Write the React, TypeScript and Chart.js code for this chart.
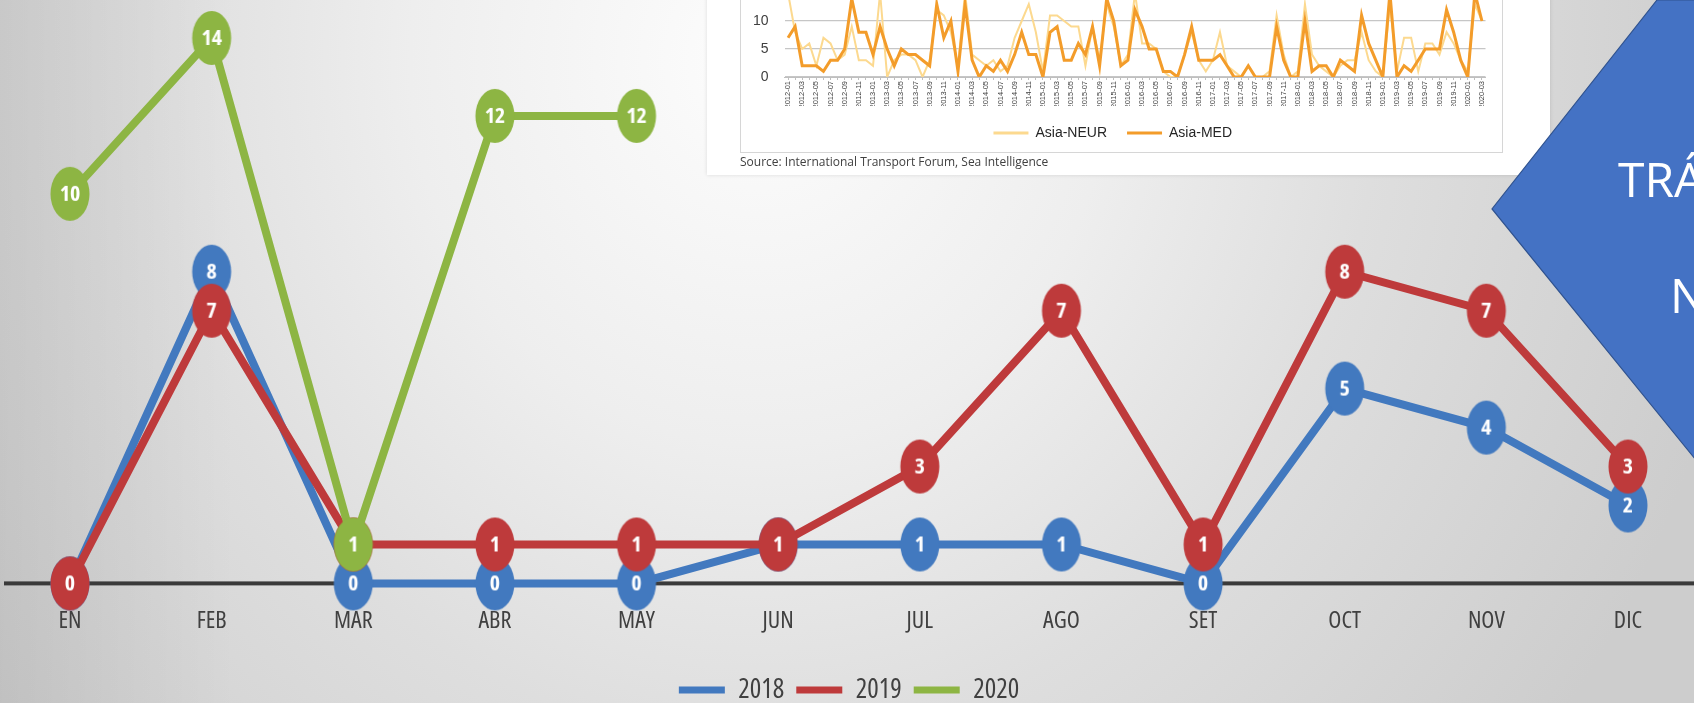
import React, { useEffect, useRef } from "react";
import { Chart, registerables } from "chart.js";

Chart.register(...registerables);

// ---------- main chart data ----------
const MONTHS = ["EN", "FEB", "MAR", "ABR", "MAY", "JUN", "JUL", "AGO", "SET", "OCT", "NOV", "DIC"];
const SERIES_NAMES = ["2018", "2019", "2020"];
const VALUES_2018 = [0, 8, 0, 0, 0, 1, 1, 1, 0, 5, 4, 2];
const VALUES_2019 = [0, 7, 1, 1, 1, 1, 3, 7, 1, 8, 7, 3];
const VALUES_2020 = [10, 14, 1, 12, 12, null, null, null, null, null, null, null];
const SERIES_COLORS = ["#4279BF", "#BE3A3B", "#8DB543"];
const Y_MIN = 0;
const Y_MAX = 14;

// ---------- inset chart data (monthly 2012-01 .. 2020-03) ----------
const INSET_FIRST_YEAR = 2012;
const INSET_MONTHS = 99;
const INSET_SERIES = ["Asia-NEUR", "Asia-MED"];
const ASIA_NEUR = [
  15, 8, 5, 6, 2, 7, 6, 3, 4, 9, 3, 3, 2, 15, 0, 3, 4, 4, 3, 0, 3, 12, 11, 8, 2,
  15, 4, 3, 2, 3, 1, 2, 7, 10, 13, 8, 1, 11, 11, 10, 9, 9, 2, 9, 3, 13, 9, 2, 4, 15,
  6, 6, 5, 1, 0, 0, 4, 8, 3, 1, 3, 8, 2, 1, 0, 2, 0, 0, 1, 11, 4, 0, 1, 13, 4,
  2, 1, 0, 2, 3, 3, 8, 3, 1, 0, 13, 1, 7, 7, 1, 6, 6, 4, 8, 6, 3, 1, 13, 10,
];
const ASIA_MED = [
  7, 9, 2, 2, 2, 1, 3, 3, 5, 14, 8, 8, 4, 9, 5, 2, 5, 4, 4, 3, 2, 13, 7, 10, 1,
  13, 3, 0, 2, 1, 3, 1, 4, 8, 4, 4, 0, 8, 9, 3, 3, 6, 4, 9, 2, 14, 10, 2, 3, 12,
  9, 5, 5, 1, 1, 0, 4, 9, 3, 3, 3, 4, 2, 0, 0, 2, 0, 0, 0, 9, 3, 0, 0, 10, 1,
  2, 2, 0, 3, 2, 1, 11, 6, 3, 0, 15, 0, 2, 1, 3, 5, 5, 5, 12, 8, 3, 0, 15, 10,
];
const INSET_COLORS = ["#FCD98F", "#F39C2A"];
const INSET_Y_MAX = 20;
const INSET_Y_STEP = 5;
const INSET_SOURCE = "Source: International Transport Forum, Sea Intelligence";

const INSET_LABELS: string[] = [];
for (let i = 0; i < INSET_MONTHS; i++) {
  const y = INSET_FIRST_YEAR + Math.floor(i / 12);
  const m = (i % 12) + 1;
  INSET_LABELS.push(`${y}-${m < 10 ? "0" + m : m}`);
}

const SANS = '"Liberation Sans", Arial, sans-serif';
const OPEN = '"Open Sans", "Roboto Condensed", sans-serif';

function makeMarker(value: number, color: string): HTMLCanvasElement {
  const c = document.createElement("canvas");
  c.width = 42;
  c.height = 58;
  const g = c.getContext("2d")!;
  g.fillStyle = color;
  g.beginPath();
  g.ellipse(21, 29, 19.5, 27, 0, 0, Math.PI * 2);
  g.fill();
  g.fillStyle = "#ffffff";
  g.font = `condensed bold 22px ${OPEN}`;
  g.textAlign = "center";
  g.textBaseline = "middle";
  g.fillText(String(value), 21, 30);
  return c;
}

const zeroLinePlugin = {
  id: "zeroLine",
  beforeDatasetsDraw(chart: any) {
    const y = chart.scales.y.getPixelForValue(0);
    const ctx = chart.ctx;
    ctx.save();
    ctx.fillStyle = "#3a3a3a";
    ctx.fillRect(4, y - 2, chart.width - 4, 4);
    ctx.restore();
  },
};

export default function App() {
  const mainRef = useRef<HTMLCanvasElement>(null);
  const insetRef = useRef<HTMLCanvasElement>(null);

  useEffect(() => {
    const all = [VALUES_2018, VALUES_2019, VALUES_2020];
    const datasets = all.map((vals, di) => ({
      label: SERIES_NAMES[di],
      data: vals,
      borderColor: SERIES_COLORS[di],
      backgroundColor: SERIES_COLORS[di],
      borderWidth: 8,
      tension: 0,
      spanGaps: false,
      clip: false as any,
      order: 3 - di,
      pointRadius: 20,
      pointStyle: vals.map((v) => (v == null ? "circle" : makeMarker(v as number, SERIES_COLORS[di]))) as any,
    }));

    const main = new Chart(mainRef.current!, {
      type: "line",
      data: { labels: MONTHS, datasets },
      options: {
        animation: false,
        responsive: false,
        layout: { padding: { left: 70, right: 66, top: 38, bottom: -10.5 } },
        scales: {
          x: {
            offset: false,
            grid: { display: false },
            border: { display: false },
            ticks: {
              color: "#404040",
              font: { family: OPEN, size: 24, weight: "condensed" as any },
              padding: 15,
              maxRotation: 0,
              autoSkip: false,
            },
            afterFit: (s: any) => {
              s.height = 81.1;
            },
          },
          y: { display: false, min: Y_MIN, max: Y_MAX },
        },
        plugins: {
          legend: {
            position: "bottom",
            labels: {
              boxWidth: 46,
              boxHeight: 7,
              padding: 12,
              color: "#404040",
              font: { family: OPEN, size: 27, weight: "condensed" as any },
              sort: (a: any, b: any) => a.datasetIndex - b.datasetIndex,
              generateLabels: (chart: any) =>
                (Chart.defaults.plugins.legend.labels.generateLabels as any)(chart).map((l: any) => ({
                  ...l,
                  lineWidth: 0,
                  fillStyle: SERIES_COLORS[l.datasetIndex],
                })),
            },
          },
          tooltip: { enabled: false },
        },
      },
      plugins: [zeroLinePlugin],
    });

    const inset = new Chart(insetRef.current!, {
      type: "line",
      data: {
        labels: INSET_LABELS,
        datasets: [
          {
            label: INSET_SERIES[0],
            data: ASIA_NEUR,
            borderColor: INSET_COLORS[0],
            backgroundColor: INSET_COLORS[0],
            borderWidth: 2,
            pointRadius: 0,
            tension: 0,
            order: 2,
          },
          {
            label: INSET_SERIES[1],
            data: ASIA_MED,
            borderColor: INSET_COLORS[1],
            backgroundColor: INSET_COLORS[1],
            borderWidth: 3,
            pointRadius: 0,
            tension: 0,
            order: 1,
          },
        ],
      },
      options: {
        animation: false,
        responsive: false,
        layout: { padding: { left: 0, right: 17.5, top: 25, bottom: 3 } },
        scales: {
          x: {
            offset: true,
            grid: { display: true, drawOnChartArea: false, drawTicks: true, tickLength: 3, color: "#bfbfbf" },
            border: { display: true, color: "#bfbfbf", width: 1 },
            ticks: {
              autoSkip: false,
              maxRotation: 90,
              minRotation: 90,
              padding: 1,
              color: "#404040",
              font: { family: SANS, size: 7.5 },
              callback: (_v: any, i: number) => (i % 2 === 0 ? INSET_LABELS[i] : ""),
            },
            afterFit: (s: any) => {
              s.height = 29;
            },
          },
          y: {
            min: 0,
            max: INSET_Y_MAX,
            ticks: { stepSize: INSET_Y_STEP, padding: 16, color: "#404040", font: { family: SANS, size: 14 } },
            grid: { color: "#c6c6c6", lineWidth: 1.2, drawTicks: false },
            border: { display: false },
            afterFit: (s: any) => {
              s.width = 44.5;
            },
          },
        },
        plugins: {
          legend: {
            position: "bottom",
            labels: {
              boxWidth: 35,
              boxHeight: 3,
              padding: 20,
              color: "#262626",
              font: { family: SANS, size: 14 },
              sort: (a: any, b: any) => a.datasetIndex - b.datasetIndex,
              generateLabels: (chart: any) =>
                (Chart.defaults.plugins.legend.labels.generateLabels as any)(chart).map((l: any) => ({
                  ...l,
                  lineWidth: 0,
                  fillStyle: INSET_COLORS[l.datasetIndex],
                })),
            },
          },
          tooltip: { enabled: false },
        },
      },
    });

    return () => {
      main.destroy();
      inset.destroy();
    };
  }, []);

  return (
    <div
      style={{
        position: "fixed",
        left: 0,
        top: 0,
        width: 1694,
        height: 703,
        overflow: "hidden",
        background:
          "linear-gradient(90deg, rgba(0,0,0,0.07) 0%, rgba(0,0,0,0) 14%), radial-gradient(ellipse 1000px 1100px at 760px 60px, #fdfdfd 0%, #eeeeee 35%, #dedede 62%, #cdcdcd 100%)",
      }}
    >
      <canvas
        ref={mainRef}
        width={1694}
        height={703}
        style={{ position: "absolute", left: 0, top: 0, width: 1694, height: 703 }}
      />
      {/* inset picture */}
      <div
        style={{
          position: "absolute",
          left: 707,
          top: -5,
          width: 843,
          height: 180,
          background: "#ffffff",
          boxShadow: "0 0 4px rgba(0,0,0,0.12)",
        }}
      />
      <div
        style={{
          position: "absolute",
          left: 740,
          top: -10,
          width: 763,
          height: 163,
          border: "1px solid #d6d6d6",
          boxSizing: "border-box",
        }}
      />
      <canvas
        ref={insetRef}
        width={763}
        height={213}
        style={{ position: "absolute", left: 740, top: -60, width: 763, height: 213 }}
      />
      <div
        style={{
          position: "absolute",
          left: 740,
          top: 154,
          fontFamily: '"Open Sans", sans-serif',
          fontSize: 12,
          lineHeight: "16px",
          color: "#404040",
          whiteSpace: "nowrap",
        }}
      >
        {INSET_SOURCE}
      </div>
      {/* blue shape */}
      <svg
        width={1694}
        height={703}
        style={{ position: "absolute", left: 0, top: 0 }}
        viewBox="0 0 1694 703"
      >
        <polygon points="1657,0 1700,0 1700,465 1492,209" fill="#4472C4" stroke="#2F528F" strokeWidth={1.2} />
        <text x={1618} y={197} fill="#ffffff" fontFamily='"Open Sans", sans-serif' fontSize={48}>
          TRÁ
        </text>
        <text x={1670} y={313} fill="#ffffff" fontFamily='"Open Sans", sans-serif' fontSize={48}>
          N
        </text>
      </svg>
    </div>
  );
}
